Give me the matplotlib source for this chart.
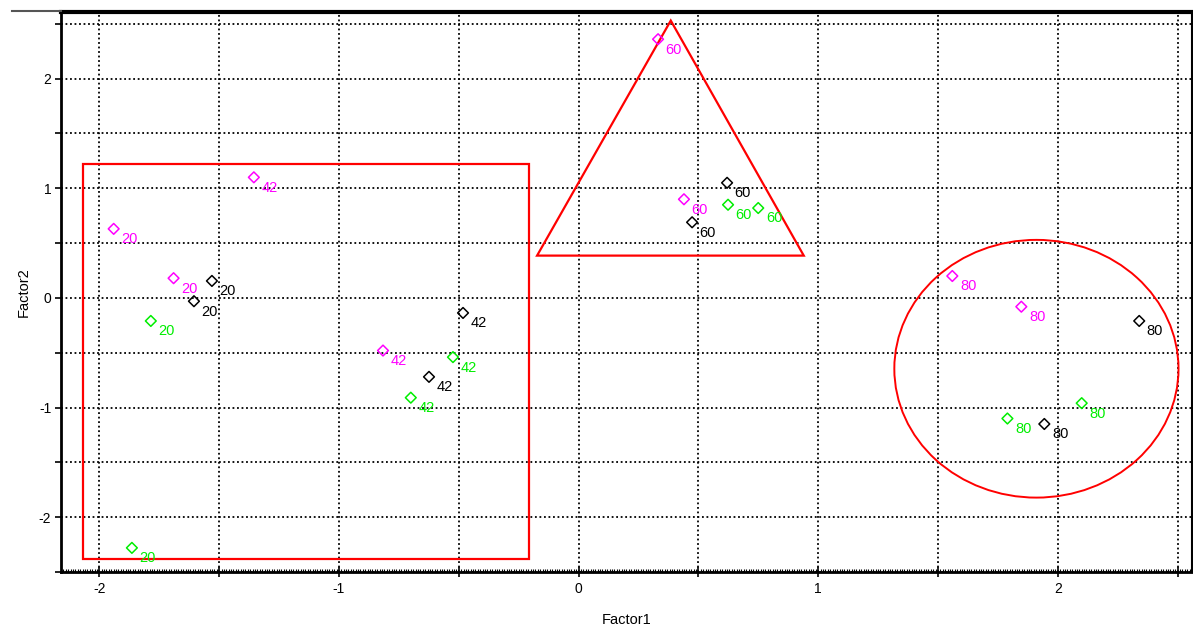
import numpy as np
import matplotlib
matplotlib.use("Agg")
import matplotlib.pyplot as plt
from matplotlib.patches import Rectangle, Polygon, Ellipse
from matplotlib.ticker import MultipleLocator, FuncFormatter
from matplotlib.lines import Line2D

plt.rcParams['font.family'] = ['Liberation Sans', 'DejaVu Sans']

# ==============================
# DATA (Factor scores)
# ==============================
magenta_x = [-1.94, -1.69, -1.355, -0.816, 0.332, 0.44, 1.56, 1.848]
magenta_y = [0.63, 0.18, 1.10, -0.48, 2.36, 0.90, 0.20, -0.08]
magenta_lab = ["20", "20", "42", "42", "60", "60", "80", "80"]

black_x = [-1.53, -1.605, -0.482, -0.624, 0.62, 0.474, 2.34, 1.944]
black_y = [0.155, -0.03, -0.137, -0.72, 1.05, 0.69, -0.21, -1.15]
black_lab = ["20", "20", "42", "42", "60", "60", "80", "80"]

green_x = [-1.785, -1.864, -0.524, -0.70, 0.624, 0.75, 1.79, 2.10]
green_y = [-0.21, -2.28, -0.54, -0.91, 0.85, 0.82, -1.10, -0.96]
green_lab = ["20", "20", "42", "42", "60", "60", "80", "80"]

# group outlines (data coords)
rect_box = (-2.069, -2.381, 1.862, 3.604)          # x0, y0, w, h
tri_pts = [(0.385, 2.53), (-0.173, 0.386), (0.94, 0.386)]
ell_box = (1.911, -0.646, 1.186, 2.351)            # cx, cy, w, h

series = [
    (magenta_x, magenta_y, magenta_lab, "#ff00ff"),
    (black_x, black_y, black_lab, "black"),
    (green_x, green_y, green_lab, "#00ee00"),
]

# ==============================
# FIGURE
# ==============================
fig = plt.figure(figsize=(11.93, 6.28), dpi=100)
ax = fig.add_axes([0.0511, 0.0892, 0.948, 0.892])

ax.set_xlim(-2.16, 2.56)
ax.set_ylim(-2.5, 2.61)

ax.xaxis.set_major_locator(MultipleLocator(0.5))
ax.yaxis.set_major_locator(MultipleLocator(0.5))
ax.xaxis.set_minor_locator(MultipleLocator(0.01))

def int_only(v, pos):
    if abs(v - round(v)) < 1e-6:
        return "%d" % round(v)
    return ""

ax.xaxis.set_major_formatter(FuncFormatter(int_only))
ax.yaxis.set_major_formatter(FuncFormatter(int_only))

ax.grid(True, which='major', color='black', linestyle=(0, (1, 1.5)), linewidth=1.3)
ax.set_axisbelow(True)

ax.tick_params(axis='x', which='major', direction='inout', length=7, width=1.2,
               labelsize=10, pad=4)
ax.tick_params(axis='x', which='minor', direction='in', length=2.5, width=0.8)
ax.tick_params(axis='y', which='major', direction='out', length=4, width=1.2,
               labelsize=10, pad=3)
ax.tick_params(top=False, right=False)

for side in ['left', 'bottom']:
    ax.spines[side].set_linewidth(2)
ax.spines['top'].set_linewidth(3)
ax.spines['right'].set_linewidth(1.5)

# extra frame line at top-left
fig.add_artist(Line2D([0.010, 0.0511], [0.982, 0.982], color='#555555', lw=1.5,
                      transform=fig.transFigure))

# ==============================
# POINTS + LABELS
# ==============================
for xs, ys, labs, col in series:
    ax.scatter(xs, ys, marker='D', s=30, facecolors='none', edgecolors=col,
               linewidths=1.1, zorder=4)
    for x, y, t in zip(xs, ys, labs):
        ax.annotate(t, (x, y), xytext=(5.5, -7.5), textcoords='offset points',
                    ha='left', va='center', fontsize=10.5, color=col, zorder=5)

# ==============================
# GROUP OUTLINES
# ==============================
ax.add_patch(Rectangle(rect_box[:2], rect_box[2], rect_box[3], fill=False,
                       edgecolor='red', linewidth=1.6, zorder=3))
ax.add_patch(Polygon(tri_pts, closed=True, fill=False, edgecolor='red',
                     linewidth=1.6, zorder=3))
ax.add_patch(Ellipse(ell_box[:2], ell_box[2], ell_box[3], fill=False,
                     edgecolor='red', linewidth=1.4, zorder=3))

ax.set_xlabel("Factor1", fontsize=10.5, labelpad=12)
ax.set_ylabel("Factor2", fontsize=10.5, labelpad=6)

fig.savefig("out.png", dpi=100)
